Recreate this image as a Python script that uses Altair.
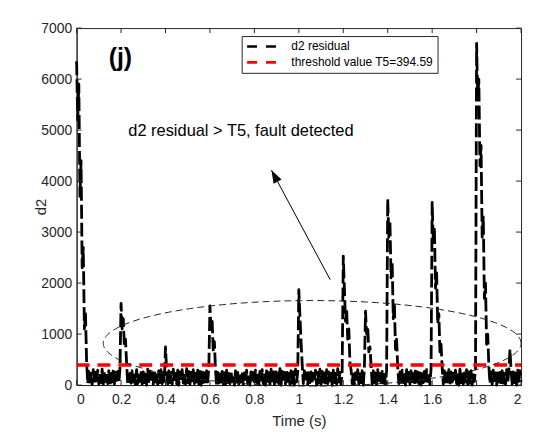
import altair as alt
import numpy as np
import pandas as pd

seg_00 = [6350, 5200, 5900, 3700, 4400, 2300, 2700, 1100, 1400, 450,
          30, 270, 60, 230, 10, 300, 40, 250, 80, 290, 20, 220, 50, 310, 10,
          260, 70, 240, 30, 280, 0, 230, 60, 300, 20, 250, 90, 270, 40, 320]
seg_02 = [1600, 1100, 1300, 750, 900, 420,
          20, 10, 230, 40, 280, 60, 250, 10, 300, 30, 240, 70, 290, 20, 260, 50, 220,
          0, 310, 40, 270, 80, 240, 20, 290, 60, 230, 10, 280, 50, 300, 30, 250, 70]
seg_04 = [750, 300,
          20, 280, 50, 250, 10, 310, 60, 230, 30, 290, 0, 260, 70, 300, 40, 240, 20,
          320, 50, 270, 10, 250, 80, 300, 30, 230, 60, 290, 20, 270, 0, 310, 50, 240,
          30, 280, 60, 330]
seg_06 = [1550, 1100, 1250, 650, 850, 300,
          0, 250, 40, 220, 60, 270, 20, 240, 10, 290, 50, 230, 30, 260, 70, 210, 0,
          280, 40, 250, 20, 230, 60, 270, 10, 240, 50, 290, 30, 220, 0, 260, 70, 250]
seg_08 = [20, 290, 50, 240, 10, 270, 60, 300, 30, 230, 0, 280, 70, 250, 20, 310, 40,
          260, 10, 290, 60, 240, 30, 320, 0, 270, 50, 250, 20, 300, 70, 230, 10, 280,
          40, 260, 0, 310, 60, 250]
seg_10 = [1870, 1350, 850, 420,
          30, 280, 60, 240, 10, 300, 50, 260, 20, 230, 70, 290, 0, 250, 40, 310, 20,
          270, 60, 240, 10, 300, 30, 260, 80, 230, 0, 290, 50, 270, 20, 320, 60, 250,
          10, 280]
seg_12 = [2530, 1900, 1250, 1500, 900, 1100, 450, 300,
          30, 270, 10, 240, 60, 300, 20, 250, 50, 280, 0, 320,
          1450, 1000, 1150, 650, 750, 400,
          20, 280, 50, 240, 10, 300, 60, 230, 0, 270, 40, 250, 20, 290]
seg_14 = [3650, 2900, 3200, 2100, 2400, 1300, 1600, 700, 900, 350,
          30, 260, 10, 290, 50, 240, 0, 300, 70, 250, 20, 280, 40, 230, 10, 310, 60,
          260, 30, 240, 0, 290, 50, 270, 20, 300, 70, 250, 10, 320]
seg_16 = [3580, 2800, 3100, 1900, 2200, 1200, 1400, 650, 800, 330,
          20, 280, 60, 240, 0, 300, 40, 260, 10, 230, 70, 290, 30, 250, 0, 310, 50,
          270, 20, 240, 60, 300, 10, 260, 40, 280, 0, 250, 70, 330]
seg_18 = [6700, 5600, 6000, 4300, 4700, 2900, 3300, 1700, 2000, 800, 1000, 380,
          30, 260, 10, 290, 50, 240, 0, 300, 60, 250, 20, 280, 40, 230, 10, 300, 50, 270,
          700, 300, 20, 260, 50, 240, 0, 290, 40, 280, 60]

d2_values = (seg_00 + seg_02 + seg_04 + seg_06 + seg_08 +
             seg_10 + seg_12 + seg_14 + seg_16 + seg_18)
sample_step = 0.005
time_s = np.round(np.arange(len(d2_values)) * sample_step, 3)

threshold = 394.59
series_names = ["d2 residual", "threshold value T5=394.59"]
series_colors = ["#000000", "#ff0000"]
x_ticks = [0, 0.2, 0.4, 0.6, 0.8, 1.0, 1.2, 1.4, 1.6, 1.8, 2.0]
y_ticks = [0, 1000, 2000, 3000, 4000, 5000, 6000, 7000]
x_domain = [0, 2]
y_domain = [0, 7000]

# annotations (data coordinates)
ell_cx, ell_cy, ell_rx, ell_ry = 1.06, 819, 0.94, 838
arrow_t = [1.141, 0.877]
arrow_d2 = [2067, 4212]

W, H = 447, 359
FONT = "Liberation Sans"

df = pd.DataFrame({"t": time_s, "d2": d2_values, "series": series_names[0]})
thr = pd.DataFrame({"t": x_domain, "d2": [threshold, threshold], "series": series_names[1]})

theta = np.linspace(0, 2 * np.pi, 241)
ell = pd.DataFrame({"t": ell_cx + ell_rx * np.cos(theta),
                    "d2": ell_cy + ell_ry * np.sin(theta),
                    "k": np.arange(len(theta))})
arr = pd.DataFrame({"t": arrow_t, "d2": arrow_d2})
head = pd.DataFrame({"t": [arrow_t[1]], "d2": [arrow_d2[1]]})

xs = alt.Scale(domain=x_domain, nice=False, zero=False)
ys = alt.Scale(domain=y_domain, nice=False, zero=False)

X = alt.X("t:Q", scale=xs, axis=alt.Axis(values=x_ticks, format="~g", title="Time (s)",
                                          ticks=False, labelPadding=8, titleY=36,
                                          titleBaseline="middle", titleFontSize=15,
                                          titleFontWeight="normal"))
Y = alt.Y("d2:Q", scale=ys, axis=alt.Axis(values=y_ticks, format="d", title="d2",
                                           ticks=False, labelPadding=5, titleX=-36,
                                           titleY=H / 2, titleBaseline="middle",
                                           titleAngle=-90, titleFontSize=15,
                                           titleFontWeight="normal"))

color = alt.Color("series:N",
                  scale=alt.Scale(domain=series_names, range=series_colors),
                  legend=alt.Legend(orient="none", legendX=166, legendY=8, title=None,
                                    symbolType="M-1,0H5", symbolSize=100,
                                    symbolStrokeWidth=2.6, symbolDash=[10, 9],
                                    labelFont=FONT, labelFontSize=12, labelColor="#000000",
                                    padding=4, rowPadding=3, labelOffset=33,
                                    strokeColor="#262626", fillColor="white"))

line_d2 = alt.Chart(df).mark_line(strokeWidth=2.8, strokeDash=[14, 4],
                                  strokeJoin="round").encode(x=X, y=Y, color=color)
line_thr = alt.Chart(thr).mark_line(strokeWidth=3.5, strokeDash=[13, 8]).encode(
    x="t:Q", y="d2:Q", color=color)

ellipse = alt.Chart(ell).mark_line(strokeWidth=1, strokeDash=[7, 4], color="#222222",
                                   clip=False).encode(x="t:Q", y="d2:Q", order="k:Q")
arrow = alt.Chart(arr).mark_line(strokeWidth=1, color="#000000").encode(x="t:Q", y="d2:Q")
arrow_head = alt.Chart(head).mark_point(shape="M0,0L0.7,2L-0.7,2Z", filled=True, size=169,
                                        angle=332, color="#000000", opacity=1).encode(
    x="t:Q", y="d2:Q")

label_j = alt.Chart(pd.DataFrame({"t": [0.197], "d2": [6415], "txt": ["(j)"]})).mark_text(
    font=FONT, fontSize=25, fontWeight="bold", align="center", baseline="middle",
    color="#000000").encode(x="t:Q", y="d2:Q", text="txt:N")
label_fault = alt.Chart(pd.DataFrame({"t": [0.2327], "d2": [4972],
                                      "txt": ["d2 residual > T5, fault detected"]})).mark_text(
    font=FONT, fontSize=16.5, align="left", baseline="middle", color="#000000").encode(
    x="t:Q", y="d2:Q", text="txt:N")

xt = pd.DataFrame({"t": x_ticks})
yt = pd.DataFrame({"d2": y_ticks})
tick_color = "#262626"
tick_b = alt.Chart(xt).mark_rule(color=tick_color, strokeWidth=1).encode(
    x="t:Q", y=alt.value(H), y2=alt.value(H - 5))
tick_t = alt.Chart(xt).mark_rule(color=tick_color, strokeWidth=1).encode(
    x="t:Q", y=alt.value(0), y2=alt.value(5))
tick_l = alt.Chart(yt).mark_rule(color=tick_color, strokeWidth=1).encode(
    y="d2:Q", x=alt.value(0), x2=alt.value(5))
tick_r = alt.Chart(yt).mark_rule(color=tick_color, strokeWidth=1).encode(
    y="d2:Q", x=alt.value(W), x2=alt.value(W - 5))

chart = alt.layer(
    line_d2, line_thr, ellipse, arrow, arrow_head, label_j, label_fault,
    tick_b, tick_t, tick_l, tick_r
).properties(
    width=W, height=H,
    padding={"left": 69, "top": 19, "right": 10, "bottom": 44},
    autosize=alt.AutoSizeParams(type="none"),
    background="white",
).configure_axis(
    labelFont=FONT, titleFont=FONT, labelFontSize=14, labelColor="#262626",
    titleColor="#262626", domainColor="#262626", grid=False,
).configure_view(stroke="#262626", strokeWidth=1)

chart.save("out.html", embed_options={"renderer": "svg", "actions": False})
